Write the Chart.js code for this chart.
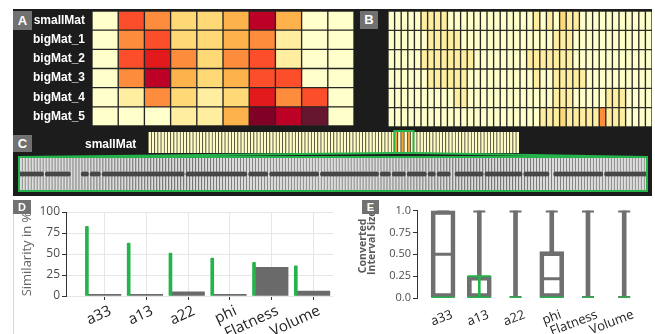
<!DOCTYPE html>
<html>
<head>
<meta charset="utf-8">
<script src="https://cdn.jsdelivr.net/npm/chart.js@4.4.1/dist/chart.umd.min.js"></script>
<style>
  html, body { margin: 0; padding: 0; background: #fff; }
  body { width: 655px; height: 334px; position: relative; overflow: hidden; }
  canvas { position: absolute; }
  .dark { position: absolute; left: 13px; top: 9px; width: 639px; height: 187px; background: #1c1c1c; }
  .edge { position: absolute; left: 13px; top: 199px; width: 1px; height: 135px; background: #d6d6d6; }
  .tag { position: absolute; background: #717171; color: #fff; text-align: center;
         font: bold 13px "Liberation Sans", Arial, sans-serif; }
  .rowlabel { position: absolute; color: #fff; font: bold 12px "Liberation Sans", Arial, sans-serif; }
</style>
</head>
<body>
<div class="dark"></div>
<div class="edge"></div>

<canvas id="heatA" width="341" height="115" style="left:13px;top:11px"></canvas>
<canvas id="heatB" width="264" height="116" style="left:388px;top:11px"></canvas>
<canvas id="strip" width="375" height="24" style="left:146px;top:130px"></canvas>
<canvas id="detail" width="636" height="44" style="left:15px;top:151px"></canvas>
<canvas id="simD" width="324" height="137" style="left:14px;top:197px"></canvas>
<canvas id="boxE" width="315" height="138" style="left:340px;top:196px"></canvas>

<div class="tag" style="left:13px;top:11px;width:19px;height:19px;line-height:19px">A</div>
<div class="tag" style="left:360px;top:11px;width:18px;height:18px;line-height:18px">B</div>
<div class="tag" style="left:13px;top:135px;width:19px;height:17px;line-height:17px">C</div>
<div class="rowlabel" style="left:85px;top:137px">smallMat</div>
<div class="tag" style="left:13px;top:200px;width:18px;height:14px;line-height:14px;font-size:11px">D</div>
<div class="tag" style="left:362px;top:200px;width:17px;height:14px;line-height:14px;font-size:11px">E</div>

<script>
// ---- data ----
const matrixRows = ["smallMat", "bigMat_1", "bigMat_2", "bigMat_3", "bigMat_4", "bigMat_5"];

// panel A: colour level (0..9) per cell, one array per row
const heatSmallMat = [0, 5, 4, 2, 2, 3, 7, 3, 0, 0];
const heatBig1 = [0, 4, 5, 2, 2, 3, 4, 1, 0, 0];
const heatBig2 = [0, 5, 6, 4, 2, 4, 5, 1, 0, 0];
const heatBig3 = [0, 4, 7, 3, 2, 3, 5, 5, 0, 0];
const heatBig4 = [0, 1, 4, 2, 1, 2, 6, 4, 5, 0];
const heatBig5 = [0, 0, 0, 1, 1, 3, 8, 7, 9, 0];

// panel B: finer matrix, 40 columns
const fineSmallMat = [0,0,0,0,0,1,1,1,1,0, 0,0,0,0,0,0,0,0,0,0, 0,0,1,0,1,0,2,1,1,0, 0,0,0,0,0,0,0,0,0,0];
const fineBig1 = [0,0,0,0,0,0,1,1,1,1, 1,0,0,0,0,0,0,0,0,0, 0,0,0,0,0,1,1,1,0,0, 0,0,0,0,0,0,0,0,0,0];
const fineBig2 = [0,0,0,0,0,1,1,1,1,1, 1,1,1,0,0,0,0,0,0,0, 0,1,1,1,1,1,1,1,0,0, 0,0,0,0,0,0,0,0,0,0];
const fineBig3 = [0,0,0,0,0,0,1,1,1,1, 1,1,0,0,0,0,0,0,0,0, 0,0,1,0,0,1,1,1,1,1, 0,0,0,0,0,0,0,0,0,0];
const fineBig4 = [0,0,0,0,0,0,0,0,0,0, 1,1,0,0,0,0,0,0,0,0, 0,0,0,0,0,1,1,1,0,0, 0,0,0,1,1,1,0,0,0,0];
const fineBig5 = [0,0,0,0,0,0,0,0,0,0, 0,0,0,0,0,0,0,0,0,0, 0,0,0,1,1,1,2,1,1,1, 1,1,4,1,1,1,0,0,0,0];

// panel C: smallMat strip and the zoomed track
const stripCols = 116;
const stripHot = [77, 79, 81];
const stripFocus = [77, 82];
const detailCols = 210;
const detailRuns = [[0, 7], [9, 16], [21, 22], [24, 26], [28, 54], [56, 63], [64, 75], [77, 82],
  [84, 99], [101, 119], [121, 123], [125, 128], [130, 135], [137, 138], [140, 143], [146, 154],
  [156, 167], [169, 176], [179, 194], [196, 209]];

// panel D
const paramLabels = ["a33", "a13", "a22", "phi", "Flatness", "Volume"];
const simBest = [83, 63, 51, 45, 40, 36];
const simOther = [2, 2, 5, 2, 34, 6];
const simTicks = ["0", "25", "50", "75", "100"];

// panel E
const boxMin = [0, 0, 0, 0, 0, 0];
const boxQ1 = [0, 0, 0, 0, 0, 0];
const boxMedian = [0.5, 0, 0, 0.22, 0, 0];
const boxQ3 = [1, 0.25, 0, 0.53, 0, 0];
const boxMax = [1, 1, 1, 1, 1, 1];
const focusMin = [0, 0, 0, 0, 0, 0];
const focusMax = [0, 0.25, 0, 0, 0, 0];
const intervalTicks = ["0.0", "0.25", "0.50", "0.75", "1.0"];

// ---- styling ----
const PALETTE = ["#ffffcc", "#ffeda0", "#fed976", "#feb24c", "#fd8d3c", "#fc4e2a", "#e31a1c", "#bd0026", "#800026", "#67162f"];
const GREEN = "#25b34b";
const GRAY = "#6f6f6f";

Chart.defaults.animation = false;
Chart.defaults.responsive = false;
Chart.defaults.devicePixelRatio = 1;
Chart.defaults.font.family = "'Open Sans', sans-serif";
Chart.defaults.plugins.legend.display = false;
Chart.defaults.plugins.tooltip.enabled = false;

function fixWidth(width) {
  return (scale) => {
    scale.width = width;
    scale.paddingTop = 0;
    scale.paddingBottom = 0;
  };
}

function fixHeight(height) {
  return (scale) => {
    scale.height = height;
    scale.paddingLeft = 0;
    scale.paddingRight = 0;
  };
}

function heatmap(canvasId, rows, showLabels, lineColor) {
  const cols = rows[0].length;
  const datasets = [];
  for (let j = 0; j < cols; j++) {
    datasets.push({
      data: rows.map(() => 1),
      backgroundColor: rows.map((r) => PALETTE[r[j]]),
      borderColor: lineColor,
      borderWidth: 1,
      borderSkipped: false,
      barPercentage: 1,
      categoryPercentage: 1,
    });
  }
  const yAxis = {
    stacked: true,
    display: showLabels,
    grid: { display: false, drawTicks: false },
    border: { display: false },
    ticks: { color: "#fff", padding: 7, font: { family: "'Liberation Sans', Arial", weight: "bold", size: 12 } },
  };
  if (showLabels) yAxis.afterFit = fixWidth(79);
  return new Chart(document.getElementById(canvasId), {
    type: "bar",
    data: { labels: matrixRows, datasets },
    options: {
      indexAxis: "y",
      layout: { padding: 0 },
      scales: {
        x: { stacked: true, display: false, min: 0, max: cols },
        y: yAxis,
      },
    },
  });
}

heatmap("heatA", [heatSmallMat, heatBig1, heatBig2, heatBig3, heatBig4, heatBig5], true, "rgba(45, 45, 45, 0.55)");
heatmap("heatB", [fineSmallMat, fineBig1, fineBig2, fineBig3, fineBig4, fineBig5], false, "rgba(60, 60, 50, 0.4)");

// ---- panel C ----
const stripIdx = Array.from({ length: stripCols }, (_, i) => i);

function focusEdges(scale) {
  const half = (scale.getPixelForValue(1) - scale.getPixelForValue(0)) / 2;
  return [scale.getPixelForValue(stripFocus[0]) - half, scale.getPixelForValue(stripFocus[1]) + half];
}

const stripChart = new Chart(document.getElementById("strip"), {
  type: "bar",
  data: {
    labels: stripIdx,
    datasets: [{
      data: stripIdx.map(() => 1),
      backgroundColor: stripIdx.map((i) => (stripHot.includes(i) ? "#f5a13a" : "#fffcc6")),
      borderColor: "rgba(95, 95, 70, 0.6)",
      borderWidth: { left: 1, right: 0, top: 0, bottom: 0 },
      borderSkipped: false,
      barPercentage: 1,
      categoryPercentage: 1,
    }],
  },
  options: {
    layout: { padding: { left: 2, right: 2, top: 2, bottom: 1 } },
    scales: { x: { display: false }, y: { display: false, min: 0, max: 1 } },
  },
  plugins: [{
    id: "stripFocus",
    afterDatasetsDraw(chart) {
      const { ctx, chartArea } = chart;
      const [l, r] = focusEdges(chart.scales.x);
      ctx.save();
      ctx.strokeStyle = GREEN;
      ctx.lineWidth = 2;
      ctx.strokeRect(l, chartArea.top - 1, r - l, chartArea.bottom - chartArea.top + 1);
      ctx.restore();
    },
  }],
});

const detailIdx = Array.from({ length: detailCols }, (_, i) => i);
const trackLine = detailIdx.map(() => null);
detailRuns.forEach(([a, b]) => {
  for (let i = a; i <= b; i++) trackLine[i] = 0.5;
});

new Chart(document.getElementById("detail"), {
  type: "bar",
  data: {
    labels: detailIdx,
    datasets: [
      {
        type: "line",
        data: trackLine,
        borderColor: "#4f4f4f",
        borderWidth: 3.5,
        pointRadius: 2.5,
        pointBorderWidth: 0,
        pointBackgroundColor: "#474747",
        spanGaps: false,
      },
      {
        data: detailIdx.map(() => 1),
        backgroundColor: "#dcdcdc",
        borderColor: "#7e7e7e",
        borderWidth: { left: 1, right: 0, top: 0, bottom: 0 },
        borderSkipped: false,
        barPercentage: 1,
        categoryPercentage: 1,
      },
    ],
  },
  options: {
    layout: { padding: { left: 2, right: 2, top: 6, bottom: 2 } },
    scales: { x: { display: false }, y: { display: false, min: 0, max: 1 } },
  },
  plugins: [{
    id: "zoomFrame",
    afterDraw(chart) {
      const { ctx, chartArea: a } = chart;
      const sc = stripChart.canvas;
      const dc = chart.canvas;
      const dx = sc.offsetLeft - dc.offsetLeft;
      const dy = sc.offsetTop - dc.offsetTop;
      const [l, r] = focusEdges(stripChart.scales.x);
      const fy = stripChart.chartArea.bottom + dy;
      ctx.save();
      ctx.strokeStyle = GREEN;
      ctx.lineWidth = 2;
      ctx.beginPath();
      ctx.moveTo(l + dx, fy);
      ctx.lineTo(a.left, a.top);
      ctx.moveTo(r + dx, fy);
      ctx.lineTo(a.right, a.top);
      ctx.stroke();
      ctx.strokeRect(a.left, a.top, a.right - a.left, a.bottom - a.top);
      ctx.restore();
    },
  }],
});

// ---- panel D ----
const catTicks = (scale) => {
  scale.ticks = paramLabels.map((_, i) => ({ value: i }));
};
const D_MIN = -0.92;
const D_MAX = 5.47;
const D_SHIFT = 0.42;

new Chart(document.getElementById("simD"), {
  type: "bar",
  data: {
    datasets: [
      {
        xAxisID: "xg",
        grouped: false,
        data: simBest.map((v, i) => ({ x: i, y: v })),
        backgroundColor: GREEN,
        barThickness: 3,
        borderRadius: 1,
      },
      {
        grouped: false,
        data: simOther.map((v, i) => ({ x: i, y: v })),
        backgroundColor: "#6a6a6a",
        barThickness: 33,
      },
    ],
  },
  options: {
    layout: { padding: { left: 0, right: 5, top: 15, bottom: 0 } },
    scales: {
      x: {
        type: "linear",
        offset: false,
        min: D_MIN,
        max: D_MAX,
        afterBuildTicks: catTicks,
        grid: { offset: false, color: "#e6e6e6", tickColor: "#333", tickLength: 4 },
        border: { display: false },
        ticks: {
          autoSkip: false,
          minRotation: 25,
          maxRotation: 25,
          padding: 2,
          labelOffset: 6,
          color: "#222",
          font: { size: 15 },
          callback: (v) => paramLabels[v],
        },
        afterFit: fixHeight(38),
      },
      xg: { type: "linear", offset: false, display: false, min: D_MIN + D_SHIFT, max: D_MAX + D_SHIFT },
      y: {
        min: 0,
        max: 100,
        ticks: { stepSize: 25, padding: 2, color: "#4d4d4d", font: { size: 12 }, callback: (v, i) => simTicks[i] },
        grid: { color: "#e6e6e6", tickColor: "#333", tickLength: 4 },
        border: { color: "#333" },
        title: { display: true, text: "Similarity in %", color: "#666", font: { size: 13 }, padding: { top: 5 } },
        afterFit: fixWidth(52),
      },
    },
  },
});

// ---- panel E ----
const hasBox = (i) => boxQ3[i] > boxQ1[i];
const pts = (arr, keep) => arr.map((v, i) => ({ x: i, y: v })).filter((p) => keep(p.x));

new Chart(document.getElementById("boxE"), {
  type: "bar",
  data: {
    datasets: [
      {
        type: "line", order: 0, showLine: false,
        data: pts(focusMin, () => true),
        pointStyle: "line",
        pointRadius: (c) => (hasBox(c.raw.x) ? 11.5 : 5.5),
        pointBorderWidth: 3,
        pointBorderColor: GREEN,
      },
      {
        type: "line", order: 1, showLine: false,
        data: pts(focusMax, (i) => focusMax[i] > focusMin[i]),
        pointStyle: "line",
        pointRadius: 11.5,
        pointBorderWidth: 2,
        pointBorderColor: GREEN,
      },
      {
        order: 2,
        grouped: false,
        data: focusMin.map((v, i) => ({ x: i, y: [v, focusMax[i]] })).filter((p) => p.y[1] > p.y[0]),
        backgroundColor: GREEN,
        barThickness: 2,
      },
      {
        type: "line", order: 3, showLine: false,
        data: pts(boxMedian, hasBox),
        pointStyle: "line",
        pointRadius: 11,
        pointBorderWidth: 3,
        pointBorderColor: GRAY,
      },
      {
        order: 4,
        grouped: false,
        data: boxQ1.map((v, i) => ({ x: i, y: [v, boxQ3[i]] })).filter((p) => hasBox(p.x)),
        backgroundColor: "rgba(255,255,255,0)",
        borderColor: GRAY,
        borderWidth: 4,
        borderSkipped: false,
        barThickness: 24,
      },
      {
        type: "line", order: 5, showLine: false,
        data: [...pts(boxMax, () => true), ...pts(boxMin, () => true)],
        pointStyle: "line",
        pointRadius: 6,
        pointBorderWidth: 4,
        pointBorderColor: GRAY,
      },
      {
        order: 6,
        grouped: false,
        data: boxQ3.map((v, i) => ({ x: i, y: [v, boxMax[i]] })).filter((p) => p.y[1] > p.y[0]),
        backgroundColor: GRAY,
        barThickness: 4,
      },
    ],
  },
  options: {
    layout: { padding: { left: 0, right: 7, top: 10, bottom: 0 } },
    scales: {
      x: {
        type: "linear",
        offset: false,
        min: -0.72,
        max: 5.45,
        afterBuildTicks: catTicks,
        grid: { display: false, offset: false },
        border: { display: false },
        ticks: {
          autoSkip: false,
          minRotation: 21,
          maxRotation: 21,
          padding: 1,
          labelOffset: 9,
          color: "#222",
          font: { size: 13 },
          callback: (v) => paramLabels[v],
        },
        afterFit: fixHeight(36),
      },
      y: {
        min: 0,
        max: 1,
        ticks: { stepSize: 0.25, padding: 2, color: "#4d4d4d", font: { size: 11 }, callback: (v, i) => intervalTicks[i] },
        grid: { drawOnChartArea: false, tickColor: "#333", tickLength: 4 },
        border: { color: "#333" },
        title: {
          display: true,
          align: "end",
          text: ["Converted   ", "Interval Size"],
          color: "#5a5a5a",
          font: { size: 10.5, weight: "bold", lineHeight: 0.85 },
          padding: { top: 19 },
        },
        afterFit: fixWidth(77),
      },
    },
  },
});
</script>
</body>
</html>
